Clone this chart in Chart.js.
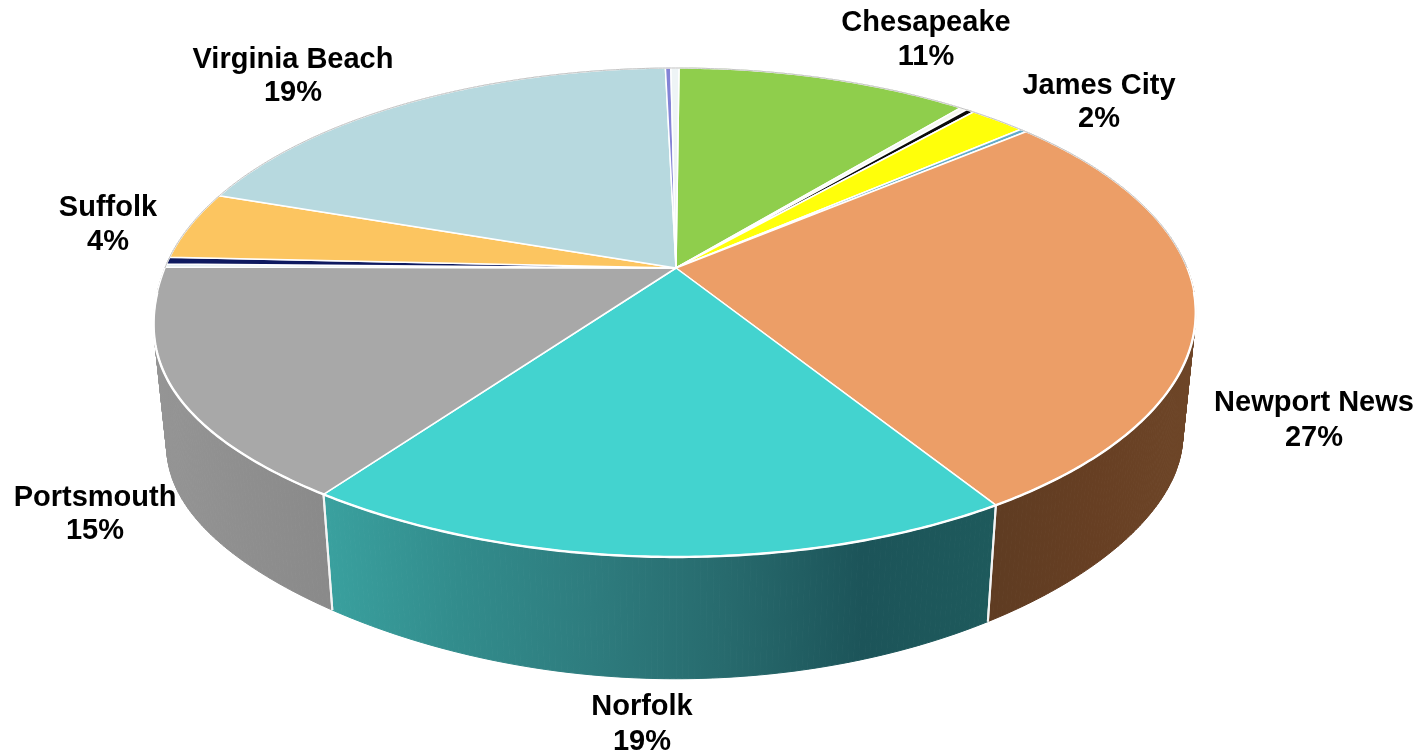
<!DOCTYPE html>
<html>
<head>
<meta charset="utf-8">
<title>Pie</title>
<script src="https://cdn.jsdelivr.net/npm/chart.js@4"></script>
<style>
html, body { margin: 0; padding: 0; background: #fff; overflow: hidden; }
canvas { display: block; }
</style>
</head>
<body>
<canvas id="chart" width="1426" height="753"></canvas>
<script>
// slices clockwise from the top, unnamed ones are the thin slivers without a label
const categories = ['Chesapeake', '', '', 'James City', '', 'Newport News', 'Norfolk', 'Portsmouth', '', '', 'Suffolk', 'Virginia Beach', '', ''];
const shares = [10.8, 0.25, 0.3, 2.1, 0.25, 27.17, 18.63, 15.2, 0.2, 0.45, 4.5, 19.3, 0.2, 0.3];
const percentLabels = ['11%', '', '', '2%', '', '27%', '19%', '15%', '', '', '4%', '19%', '', ''];

const topColors = ['#8fce4c', '#f6f8f2', '#0b0b0b', '#ffff0a', '#63abc8', '#ec9e67', '#43d3cf', '#a8a8a8', '#e6f1f3', '#0f1a60', '#fcc560', '#b7d9df', '#8484d6', '#eef4f6'];
const wallColors = [
    ['#6a9a35', '#6a9a35'], ['#ccc', '#ccc'], ['#222', '#222'], ['#aaa', '#aaa'], ['#468', '#468'],
    ['#5f3c22', '#673f23', '#6e4628'],
    ['#3aa19f', '#328c8c', '#2e7c7e', '#276a6d', '#1c5459', '#1e5a5c'],
    ['#959595', '#8f8f8f', '#8a8a8a'],
    ['#ccc', '#ccc'], ['#123', '#123'], ['#b08a40', '#b08a40'], ['#80989c', '#80989c'], ['#669', '#669'], ['#ccc', '#ccc']
];

// where each label is centred: x, first line y, second line y
const labelSpots = {
    'Chesapeake': [926, 23, 57],
    'James City': [1099, 86, 119],
    'Newport News': [1314, 403, 438],
    'Norfolk': [642, 707, 742],
    'Portsmouth': [95, 498, 531],
    'Suffolk': [108, 208, 242],
    'Virginia Beach': [293, 60, 93]
};

// perspective of the disc, relative to the radius the library gives
const spreadX = 1.907, spreadY = 0.882, tilt = -0.182;
const vanishDrop = 5160, depthScale = 0.975;
const leftBulge = 70, cornerLift = 28;

function project(arc, angle) {
    const X = Math.cos(angle), Y = Math.sin(angle);
    const w = 1 + tilt * Y;
    // the front left of the disc is a little fuller in the picture
    const bulge = (X < 0 && Y > 0) ? leftBulge * Y * Y * X * X * X * X : 0;
    return {
        x: arc.x + arc.outerRadius * spreadX * X / w - bulge,
        y: arc.y + arc.outerRadius * spreadY * Y / w
    };
}

function lower(arc, angle) {
    const p = project(arc, angle);
    const X = Math.cos(angle), Y = Math.sin(angle);
    const vy = arc.y + vanishDrop;
    const lift = Y > 0 ? cornerLift * X * X * Y : 0;
    return { x: arc.x + (p.x - arc.x) * depthScale, y: vy + (p.y - vy) * depthScale - lift };
}

function rimAngles(arc) {
    const n = Math.max(2, Math.ceil((arc.endAngle - arc.startAngle) / 0.01));
    const list = [];
    for (let i = 0; i <= n; i++) {
        list.push(arc.startAngle + (arc.endAngle - arc.startAngle) * i / n);
    }
    return list;
}

function drawWall(ctx, arc, stops) {
    const angles = rimAngles(arc);
    const rim = angles.map(t => project(arc, t));
    const bottom = angles.map(t => lower(arc, t));
    const xs = rim.map(p => p.x);
    const grad = ctx.createLinearGradient(Math.min(...xs), 0, Math.max(...xs) + 1, 0);
    stops.forEach((c, i) => grad.addColorStop(i / (stops.length - 1), c));

    // one quad per step, the rim and the bottom curve cross near the sides
    ctx.fillStyle = grad;
    ctx.strokeStyle = grad;
    ctx.lineWidth = 1;
    for (let i = 0; i < rim.length - 1; i++) {
        ctx.beginPath();
        ctx.moveTo(rim[i].x, rim[i].y);
        ctx.lineTo(rim[i + 1].x, rim[i + 1].y);
        ctx.lineTo(bottom[i + 1].x, bottom[i + 1].y);
        ctx.lineTo(bottom[i].x, bottom[i].y);
        ctx.closePath();
        ctx.fill();
        ctx.stroke();
    }
}

function wallEdge(ctx, arc, angle) {
    if (Math.sin(angle) < 0.05) return;
    const p = project(arc, angle), q = lower(arc, angle);
    ctx.beginPath();
    ctx.moveTo(p.x, p.y);
    ctx.lineTo(q.x, q.y);
    ctx.strokeStyle = '#f4f4f4';
    ctx.lineWidth = 2;
    ctx.stroke();
}

function drawTop(ctx, arc, color) {
    ctx.beginPath();
    ctx.moveTo(arc.x, arc.y);
    rimAngles(arc).forEach(t => {
        const p = project(arc, t);
        ctx.lineTo(p.x, p.y);
    });
    ctx.closePath();
    ctx.fillStyle = color;
    ctx.fill();
    ctx.strokeStyle = '#ffffff';
    ctx.lineWidth = 1.5;
    ctx.lineJoin = 'round';
    ctx.stroke();
}

function strokeRim(ctx, arc, from, to, color, width) {
    ctx.beginPath();
    for (let t = from; t <= to + 0.001; t += 0.01) {
        const p = project(arc, t);
        ctx.lineTo(p.x, p.y);
    }
    ctx.strokeStyle = color;
    ctx.lineWidth = width;
    ctx.stroke();
}

const disc3d = {
    id: 'disc3d',
    beforeDatasetsDraw(chart) {
        const ctx = chart.ctx;
        const arcs = chart.getDatasetMeta(0).data;
        const mid = a => Math.sin((a.startAngle + a.endAngle) / 2);
        const order = arcs.map((a, i) => i).sort((a, b) => mid(arcs[a]) - mid(arcs[b]));
        ctx.save();
        order.forEach(i => drawWall(ctx, arcs[i], wallColors[i]));
        arcs.forEach(a => { wallEdge(ctx, a, a.startAngle); wallEdge(ctx, a, a.endAngle); });
        arcs.forEach((a, i) => drawTop(ctx, a, topColors[i]));

        // thin grey outline along the back, heavier white along the front
        strokeRim(ctx, arcs[0], Math.PI, 2 * Math.PI, '#c4c4c4', 1);
        strokeRim(ctx, arcs[0], 0.1, Math.PI - 0.1, '#ffffff', 2.4);
        ctx.restore();
        return false;
    },
    afterDraw(chart) {
        const ctx = chart.ctx;
        ctx.save();
        ctx.fillStyle = '#000';
        ctx.font = 'bold 29px "Liberation Sans", Arial, sans-serif';
        ctx.textAlign = 'center';
        ctx.textBaseline = 'middle';
        categories.forEach((name, i) => {
            if (!name) return;
            const spot = labelSpots[name];
            ctx.fillText(name, spot[0], spot[1]);
            ctx.fillText(percentLabels[i], spot[0], spot[2]);
        });
        ctx.restore();
    }
};

new Chart(document.getElementById('chart').getContext('2d'), {
    type: 'pie',
    data: {
        labels: categories,
        datasets: [{ data: shares, backgroundColor: topColors, borderWidth: 0, hoverOffset: 0 }]
    },
    options: {
        responsive: false,
        animation: false,
        rotation: 0.4,
        layout: { padding: { left: 0, top: 0, right: 74, bottom: 217 } },
        plugins: { legend: { display: false }, tooltip: { enabled: false } }
    },
    plugins: [disc3d]
});
</script>
</body>
</html>
